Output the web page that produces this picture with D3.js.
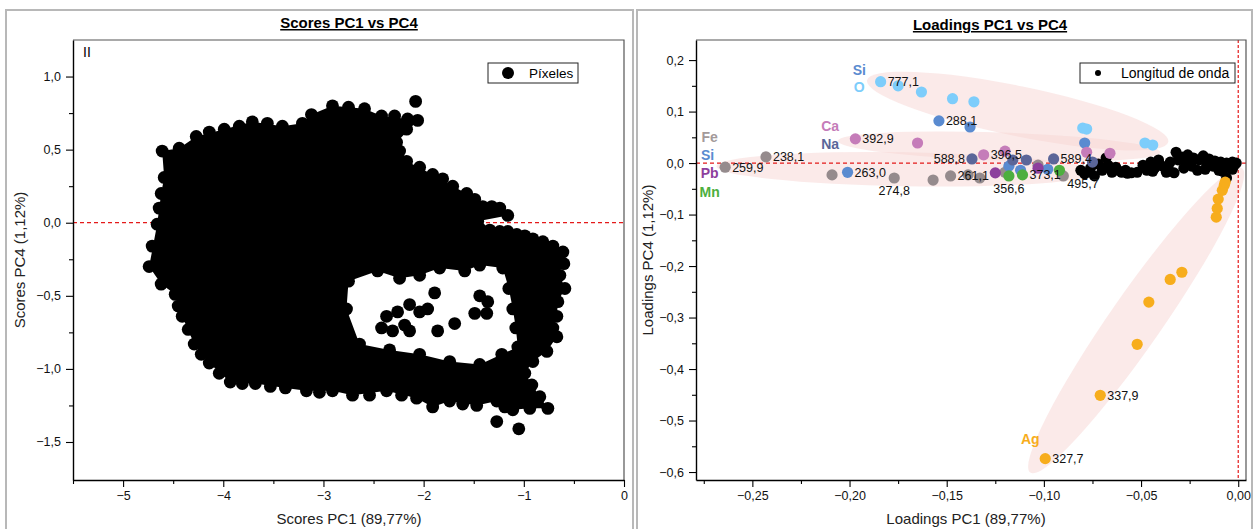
<!DOCTYPE html>
<html>
<head>
<meta charset="utf-8">
<script src="https://cdn.jsdelivr.net/npm/d3@7"></script>
<style>
  body { margin: 0; background: #fff; }
  svg { font-family: "Liberation Sans", Arial, sans-serif; }
</style>
</head>
<body>
<svg id="chart" width="1257" height="529"></svg>
<script>
// ---------- Scores PC1 vs PC4 (pixels) ----------
// outer rim of the dense pixel cloud (centres of the edge points)
const scoreOutline = [
  [-4.74,-0.30],[-4.66,-0.01],[-4.62,0.20],[-4.59,0.31],[-4.61,0.49],[-4.44,0.51],[-4.27,0.59],
  [-3.99,0.64],[-3.71,0.69],[-3.41,0.66],[-3.21,0.68],[-3.12,0.74],[-2.91,0.80],[-2.75,0.79],
  [-2.59,0.78],[-2.42,0.73],[-2.16,0.71],[-2.06,0.70],[-2.27,0.55],[-2.17,0.42],[-1.91,0.33],
  [-1.71,0.25],[-1.57,0.20],[-1.41,0.11],[-1.24,0.10],[-1.16,0.05],[-1.46,0.01],[-1.44,-0.04],
  [-1.24,-0.06],[-1.07,-0.08],[-0.91,-0.11],[-0.71,-0.16],[-0.61,-0.20],[-0.64,-0.36],[-0.59,-0.45],
  [-0.66,-0.54],[-0.67,-0.64],[-0.71,-0.72],[-0.67,-0.78],[-0.77,-0.88],[-0.91,-0.95],[-0.99,-1.03],
  [-0.84,-1.19],[-0.76,-1.27],[-0.94,-1.27],[-1.11,-1.28],[-1.27,-1.22],[-1.47,-1.25],[-1.74,-1.22],
  [-1.91,-1.26],[-2.07,-1.20],[-2.37,-1.15],[-2.71,-1.18],[-2.91,-1.15],[-3.17,-1.15],[-3.38,-1.13],
  [-3.68,-1.10],[-3.93,-1.09],[-4.14,-0.96],[-4.29,-0.83],[-4.41,-0.64],[-4.48,-0.49],[-4.62,-0.42]
];
// more pixels sitting on the outer rim
const scoreRimDots = [
  [-4.14,0.62],[-3.84,0.66],[-4.71,-0.16],[-4.64,0.10],[-3.56,0.68],[-2.29,0.73],[-2.17,0.64],
  [-2.24,0.49],[-2.04,0.38],[-1.81,0.30],[-1.49,0.16],[-1.32,0.11],[-1.34,-0.05],[-1.16,-0.06],
  [-0.99,-0.09],[-0.81,-0.13],[-0.60,-0.28],[-0.92,-1.11],[-1.19,-1.26],[-1.61,-1.24],[-2.22,-1.18],
  [-2.54,-1.18],[-3.04,-1.16],[-3.53,-1.12],[-3.81,-1.10],[-4.04,-1.03],[-4.22,-0.90],[-4.35,-0.73],
  [-4.45,-0.57]
];
// rim of the empty pocket inside the cloud
const scoreHoleRim = [
  [-2.75,-0.40],[-2.46,-0.33],[-2.24,-0.38],[-2.04,-0.36],[-1.84,-0.31],[-1.59,-0.33],[-1.44,-0.29],
  [-1.21,-0.31],[-1.15,-0.45],[-1.11,-0.59],[-1.08,-0.72],[-1.06,-0.85],[-1.22,-0.90],[-1.44,-0.97],
  [-1.74,-0.95],[-2.04,-0.90],[-2.34,-0.87],[-2.64,-0.83],[-2.77,-0.59]
];
// single pixels inside the pocket
const scoreHoleDots = [
  [-1.89,-0.48],[-2.14,-0.56],[-2.04,-0.61],[-1.96,-0.59],[-2.37,-0.64],[-2.26,-0.61],[-2.42,-0.72],
  [-2.31,-0.74],[-2.19,-0.70],[-2.14,-0.74],[-1.69,-0.69],[-1.86,-0.74],[-1.44,-0.50],[-1.36,-0.54],
  [-1.49,-0.62],[-1.37,-0.62]
];
// loose pixels around the cloud
const scoreLooseDots = [
  [-2.08,0.83],[-2.36,0.57],[-4.64,-0.27],[-4.49,-0.27],[-4.34,-0.35],[-1.27,-1.36],[-1.05,-1.41]
];
const scoreXTicks = [-5, -4, -3, -2, -1, 0];
const scoreXMinor = [-5.5, -4.5, -3.5, -2.5, -1.5, -0.5];
const scoreYTicks = [1.0, 0.5, 0.0, -0.5, -1.0, -1.5];
const scoreYMinor = [0.75, 0.25, -0.25, -0.75, -1.25];

// ---------- Loadings PC1 vs PC4 (wavelengths) ----------
const loadO  = [[-0.184,0.158],[-0.175,0.150],[-0.163,0.138],[-0.147,0.125],[-0.136,0.119],
                [-0.080,0.068],[-0.078,0.066],[-0.048,0.039],[-0.044,0.035]];
const loadSi = [[-0.154,0.082],[-0.138,0.070],[-0.079,0.039],[-0.201,-0.018],[-0.118,-0.006],
                [-0.098,-0.012],[-0.112,-0.014]];
const loadCa = [[-0.197,0.047],[-0.165,0.039],[-0.131,0.016],[-0.120,0.023],[-0.078,0.021],[-0.066,0.019]];
const loadNa = [[-0.137,0.008],[-0.116,0.006],[-0.109,0.006],[-0.095,0.008],[-0.075,0.002]];
const loadFe = [[-0.264,-0.008],[-0.243,0.012],[-0.209,-0.023],[-0.177,-0.029],[-0.157,-0.033],
                [-0.148,-0.025],[-0.139,-0.023],[-0.133,-0.029],[-0.120,-0.018],[-0.103,-0.004],[-0.090,-0.025]];
const loadPb = [[-0.125,-0.019],[-0.103,-0.010]];
const loadMn = [[-0.118,-0.025],[-0.111,-0.023],[-0.092,-0.014]];
const loadAg = [[-0.0993,-0.574],[-0.071,-0.451],[-0.052,-0.352],[-0.046,-0.270],[-0.035,-0.226],
                [-0.029,-0.212],[-0.0113,-0.105],[-0.0108,-0.088],[-0.0103,-0.070],[-0.0082,-0.053],
                [-0.0072,-0.043],[-0.0067,-0.037]];
const loadOther = [
  [-0.081,-0.014],[-0.079,-0.021],[-0.076,-0.010],[-0.074,-0.025],[-0.072,-0.002],[-0.070,-0.014],
  [-0.068,0.010],[-0.067,-0.004],[-0.065,-0.018],[-0.062,-0.014],[-0.060,-0.018],[-0.058,-0.014],
  [-0.055,-0.019],[-0.052,-0.018],[-0.049,-0.004],[-0.047,-0.014],[-0.045,0.002],[-0.043,-0.010],
  [-0.041,0.006],[-0.039,-0.006],[-0.037,-0.018],[-0.035,0.002],[-0.033,-0.019],[-0.032,0.021],
  [-0.031,0.006],[-0.029,0.012],[-0.027,0.002],[-0.026,0.016],[-0.024,-0.006],[-0.023,0.010],
  [-0.021,-0.014],[-0.020,0.006],[-0.018,0.014],[-0.016,-0.004],[-0.015,0.008],[-0.013,-0.006],
  [-0.012,0.004],[-0.010,-0.014],[-0.009,0.002],[-0.007,-0.006],[-0.006,0.000],[-0.004,-0.010],
  [-0.003,0.002],[-0.002,-0.004],[-0.001,0.000],[-0.006,-0.029],[-0.063,-0.008],[-0.057,-0.020],
  [-0.044,-0.016],[-0.036,-0.010],[-0.028,-0.010],[-0.017,-0.012],[-0.008,-0.016],[-0.003,-0.012]
];
// wavelength labels: text, x, y, side
const loadLabels = [
  ["777,1",-0.184,0.158,"r"],["288,1",-0.154,0.082,"r"],["392,9",-0.197,0.047,"r"],
  ["263,0",-0.201,-0.018,"r"],["238,1",-0.243,0.012,"r"],["259,9",-0.264,-0.008,"r"],
  ["274,8",-0.177,-0.029,"b"],["588,8",-0.137,0.008,"l"],["396,5",-0.131,0.016,"r"],
  ["261,1",-0.148,-0.025,"r"],["589,4",-0.095,0.008,"r"],["356,6",-0.118,-0.025,"b"],
  ["373,1",-0.111,-0.023,"r"],["495,7",-0.090,-0.025,"br"],["337,9",-0.071,-0.451,"r"],
  ["327,7",-0.0993,-0.574,"r"]
];
// element names
const elementLabels = [
  ["Si",-0.195,0.181,"#5a8bd0"],["O",-0.195,0.148,"#7dcdfb"],["Ca",-0.210,0.072,"#c57cb9"],
  ["Na",-0.210,0.037,"#5b6699"],["Fe",-0.272,0.051,"#a39a9a"],["Si",-0.273,0.016,"#5a8bd0"],
  ["Pb",-0.272,-0.019,"#8d3f9c"],["Mn",-0.272,-0.056,"#4daf3e"],["Ag",-0.107,-0.535,"#f7ad1c"]
];
// group ellipses: end points of the long axis
const groupEllipses = [
  [-0.191,0.161,-0.036,0.041],
  [-0.206,0.043,-0.040,0.021],
  [-0.2685,-0.006,-0.0736,-0.018],
  [-0.107,-0.601,0.002,-0.010]
];
const loadXTicks = [-0.25, -0.20, -0.15, -0.10, -0.05, 0.00];
const loadXMinor = [-0.275, -0.225, -0.175, -0.125, -0.075, -0.025];
const loadYTicks = [0.2, 0.1, 0.0, -0.1, -0.2, -0.3, -0.4, -0.5, -0.6];
const loadYMinor = [0.15, 0.05, -0.05, -0.15, -0.25, -0.35, -0.45, -0.55];

// ---------- drawing ----------
const svg = d3.select("#chart");
const loc = d3.formatLocale({decimal: ",", thousands: ".", grouping: [3], currency: ["", ""], minus: "\u2212"});

// panel borders
svg.append("rect").attr("x", 6).attr("y", 10).attr("width", 627).attr("height", 525)
   .attr("fill", "none").attr("stroke", "#b8b8b8").attr("stroke-width", 2);
svg.append("rect").attr("x", 637).attr("y", 10).attr("width", 615).attr("height", 525)
   .attr("fill", "none").attr("stroke", "#b8b8b8").attr("stroke-width", 2);

function drawAxes(g, x, y, xt, xm, yt, ym, xf, yf) {
  const bottom = y.range()[0], left = x.range()[0];
  g.append("path").attr("d", `M${left},${y.range()[1]}H${x.range()[1]}V${bottom}`)
   .attr("fill", "none").attr("stroke", "#555").attr("stroke-width", 1.2);
  g.append("g").attr("transform", `translate(0,${bottom})`)
    .call(d3.axisBottom(x).tickValues(xt).tickFormat(xf).tickSize(7).tickSizeOuter(0).tickPadding(4));
  g.append("g").attr("transform", `translate(0,${bottom})`)
    .call(d3.axisBottom(x).tickValues(xm).tickFormat("").tickSize(4).tickSizeOuter(0))
    .select(".domain").remove();
  g.append("g").attr("transform", `translate(${left},0)`)
    .call(d3.axisLeft(y).tickValues(yt).tickFormat(yf).tickSize(7).tickSizeOuter(0).tickPadding(5));
  g.append("g").attr("transform", `translate(${left},0)`)
    .call(d3.axisLeft(y).tickValues(ym).tickFormat("").tickSize(4).tickSizeOuter(0))
    .select(".domain").remove();
  g.selectAll(".domain").attr("stroke", "#000").attr("stroke-width", 1.4);
  g.selectAll(".tick line").attr("stroke", "#000").attr("stroke-width", 1.1);
  g.selectAll(".tick text").attr("font-size", 12.5).attr("fill", "#111")
   .attr("font-family", "Liberation Sans, Arial, sans-serif");
}

// ----- left panel -----
const sx = d3.scaleLinear().domain([-5.5, 0]).range([73, 624]);
const sy = d3.scaleLinear().domain([-1.76, 1.25]).range([480, 40]);
const gL = svg.append("g");

gL.append("line").attr("x1", sx(-5.5)).attr("x2", sx(0)).attr("y1", sy(0)).attr("y2", sy(0))
  .attr("stroke", "#e41a1a").attr("stroke-width", 1.2).attr("stroke-dasharray", "4,3");

const ring = d3.line().x(d => sx(d[0])).y(d => sy(d[1])).curve(d3.curveLinearClosed);
gL.append("path").attr("d", ring(scoreOutline) + ring(scoreHoleRim))
  .attr("fill", "#000").attr("fill-rule", "evenodd");
gL.selectAll(".pix").data([].concat(scoreOutline, scoreRimDots, scoreHoleRim, scoreHoleDots, scoreLooseDots))
  .join("circle").attr("class", "pix")
  .attr("cx", d => sx(d[0])).attr("cy", d => sy(d[1])).attr("r", 6.4).attr("fill", "#000");

drawAxes(gL, sx, sy, scoreXTicks, scoreXMinor, scoreYTicks, scoreYMinor,
         loc.format("d"), loc.format(".1f"));

gL.append("text").attr("x", 83).attr("y", 57).attr("font-size", 14).attr("fill", "#000").text("II");
gL.append("text").attr("x", 349).attr("y", 28).attr("text-anchor", "middle")
  .attr("font-size", 15).attr("font-weight", "bold").attr("text-decoration", "underline")
  .attr("fill", "#000").text("Scores PC1 vs PC4");
gL.append("text").attr("x", 349).attr("y", 524).attr("text-anchor", "middle")
  .attr("font-size", 15).attr("fill", "#222").text("Scores PC1 (89,77%)");
gL.append("text").attr("transform", "translate(25,260) rotate(-90)").attr("text-anchor", "middle")
  .attr("font-size", 15).attr("fill", "#222").text("Scores PC4 (1,12%)");
gL.append("rect").attr("x", 488).attr("y", 63).attr("width", 90).attr("height", 20)
  .attr("fill", "#fff").attr("stroke", "#222");
gL.append("circle").attr("cx", 508).attr("cy", 73).attr("r", 6).attr("fill", "#000");
gL.append("text").attr("x", 529).attr("y", 78).attr("font-size", 13.5).attr("fill", "#000").text("Píxeles");

// ----- right panel -----
const lx = d3.scaleLinear().domain([-0.279, 0.004]).range([696, 1246]);
const ly = d3.scaleLinear().domain([-0.6155, 0.239]).range([480, 40]);
const gR = svg.append("g");
const ellipseHalfWidth = [25, 14, 17, 26];

groupEllipses.forEach((e, i) => {
  const x1 = lx(e[0]), y1 = ly(e[1]), x2 = lx(e[2]), y2 = ly(e[3]);
  const len = Math.hypot(x2 - x1, y2 - y1);
  const ang = Math.atan2(y2 - y1, x2 - x1) * 180 / Math.PI;
  gR.append("ellipse")
    .attr("transform", `translate(${(x1 + x2) / 2},${(y1 + y2) / 2}) rotate(${ang})`)
    .attr("rx", len / 2).attr("ry", ellipseHalfWidth[i])
    .attr("fill", "#f7d6d4").attr("opacity", 0.5);
});

gR.append("line").attr("x1", lx(-0.279)).attr("x2", lx(0.004)).attr("y1", ly(0)).attr("y2", ly(0))
  .attr("stroke", "#e41a1a").attr("stroke-width", 1.2).attr("stroke-dasharray", "4,3");
gR.append("line").attr("x1", lx(0)).attr("x2", lx(0)).attr("y1", ly(0.239)).attr("y2", ly(-0.6155))
  .attr("stroke", "#e41a1a").attr("stroke-width", 1.2).attr("stroke-dasharray", "3,2");

gR.selectAll(".wl").data(loadOther).join("circle").attr("class", "wl")
  .attr("cx", d => lx(d[0])).attr("cy", d => ly(d[1])).attr("r", 5.5).attr("fill", "#000");

const groups = [
  [loadFe, "#958b8d"], [loadO, "#7dcdfb"], [loadSi, "#5a8bd0"], [loadCa, "#c57cb9"],
  [loadNa, "#5b6699"], [loadPb, "#8d3f9c"], [loadMn, "#4daf3e"], [loadAg, "#f7ad1c"]
];
groups.forEach(([pts, col]) => {
  gR.append("g").selectAll("circle").data(pts).join("circle")
    .attr("cx", d => lx(d[0])).attr("cy", d => ly(d[1])).attr("r", 5.6).attr("fill", col);
});

gR.selectAll(".wlab").data(loadLabels).join("text").attr("class", "wlab")
  .attr("x", d => lx(d[1]) + (d[3] === "r" ? 7 : d[3] === "l" ? -7 : d[3] === "br" ? 4 : 0))
  .attr("y", d => ly(d[2]) + (d[3] === "b" ? 17 : d[3] === "br" ? 12 : 4.5))
  .attr("text-anchor", d => d[3] === "l" ? "end" : d[3] === "b" ? "middle" : "start")
  .attr("font-size", 12.5).attr("fill", "#111").text(d => d[0]);

gR.selectAll(".elab").data(elementLabels).join("text").attr("class", "elab")
  .attr("x", d => lx(d[1])).attr("y", d => ly(d[2]) + 5).attr("text-anchor", "middle")
  .attr("font-size", 14).attr("font-weight", "bold").attr("fill", d => d[3]).text(d => d[0]);

drawAxes(gR, lx, ly, loadXTicks, loadXMinor, loadYTicks, loadYMinor,
         loc.format(".2f"), loc.format(".1f"));

gR.append("text").attr("x", 990).attr("y", 30).attr("text-anchor", "middle")
  .attr("font-size", 15).attr("font-weight", "bold").attr("text-decoration", "underline")
  .attr("fill", "#000").text("Loadings PC1 vs PC4");
gR.append("text").attr("x", 966).attr("y", 524).attr("text-anchor", "middle")
  .attr("font-size", 15).attr("fill", "#222").text("Loadings PC1 (89,77%)");
gR.append("text").attr("transform", "translate(653,260) rotate(-90)").attr("text-anchor", "middle")
  .attr("font-size", 15).attr("fill", "#222").text("Loadings PC4 (1,12%)");
gR.append("rect").attr("x", 1080).attr("y", 63).attr("width", 155).attr("height", 20)
  .attr("fill", "#fff").attr("stroke", "#222");
gR.append("circle").attr("cx", 1098).attr("cy", 73).attr("r", 3).attr("fill", "#000");
gR.append("text").attr("x", 1121).attr("y", 78).attr("font-size", 14).attr("fill", "#000").text("Longitud de onda");
</script>
</body>
</html>
